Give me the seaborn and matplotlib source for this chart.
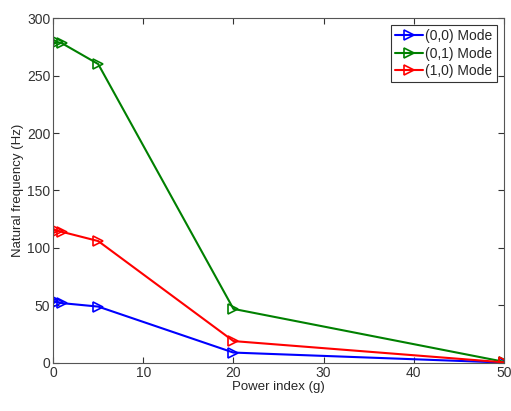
import matplotlib
matplotlib.use("Agg")
import matplotlib.pyplot as plt
import seaborn as sns
import pandas as pd

# power index values and natural frequencies
power_index = [0, 0.5, 1, 5, 20, 50]
mode_00 = [54, 53, 52, 49, 9, 0.3]
mode_01 = [279, 279, 278, 260, 47, 1]
mode_10 = [115, 115, 114, 106, 19, 0.5]
labels = ["(0,0) Mode", "(0,1) Mode", "(1,0) Mode"]
colors = ["#0000ff", "#008000", "#ff0000"]

sns.set_style("white")
plt.rcParams['font.family'] = ['Liberation Sans', 'DejaVu Sans']

fig = plt.figure(figsize=(5.11, 4.11), dpi=100)
ax = fig.add_axes([0.104, 0.117, 0.882, 0.839])

for vals, lab, c in zip([mode_00, mode_01, mode_10], labels, colors):
    df = pd.DataFrame({"g": power_index, "f": vals})
    sns.lineplot(data=df, x="g", y="f", ax=ax, color=c, label=lab,
                 marker=">", markersize=7, markerfacecolor="none",
                 markeredgecolor=c, markeredgewidth=1.2, linewidth=1.5)

ax.set_xlim(0, 50)
ax.set_ylim(0, 300)
ax.set_xticks([0, 10, 20, 30, 40, 50])
ax.set_yticks([0, 50, 100, 150, 200, 250, 300])
ax.set_xlabel("Power index (g)", fontsize=9.5, labelpad=1)
ax.set_ylabel("Natural frequency (Hz)", fontsize=9.5, labelpad=2)
ax.tick_params(direction="in", length=4, labelsize=10, colors="#333333",
               top=True, right=True, bottom=True, left=True, pad=2)
for s in ax.spines.values():
    s.set_visible(True)
    s.set_color("#555555")
    s.set_linewidth(0.8)

leg = ax.legend(loc="upper right", fontsize=10, fancybox=False, framealpha=1,
                edgecolor="#333333", handlelength=2.0, borderaxespad=0.5,
                labelspacing=0.25, handletextpad=0.2, borderpad=0.3)
leg.get_frame().set_linewidth(0.8)

fig.savefig("out.png", dpi=100)
